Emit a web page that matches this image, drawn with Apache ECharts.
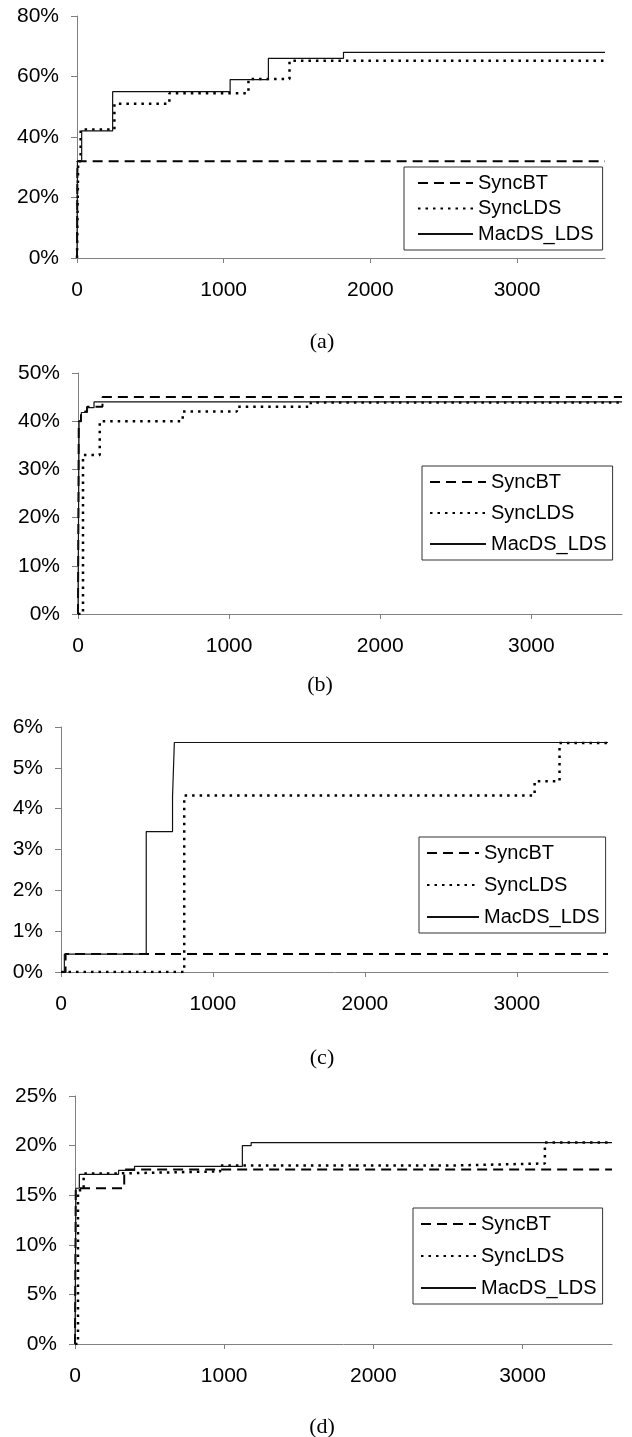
<!DOCTYPE html>
<html>
<head>
<meta charset="utf-8">
<script src="https://cdn.jsdelivr.net/npm/echarts@6/dist/echarts.min.js"></script>
<style>
  html, body { margin: 0; padding: 0; background: #fff; }
  #chart { width: 632px; height: 1437px; }
</style>
</head>
<body>
<div id="chart"></div>
<script>
// names, ticks, captions
const seriesNames = ['SyncBT', 'SyncLDS', 'MacDS_LDS'];
const xTicks = [0, 1000, 2000, 3000];
const xMax = 3600;
const yMax = [80, 50, 6, 25];
const yStep = [20, 10, 1, 5];
const captions = ['(a)', '(b)', '(c)', '(d)'];

// (a) values in %, step changes at x
const aSyncBT = [[0, 0], [3, 32], [3600, 32]];
const aSyncLDS = [[0, 0], [8, 32], [25, 42.5], [255, 51], [630, 54.5], [1169, 59.2], [1449, 65.2], [3600, 65.2]];
const aMacDS = [[0, 0], [3, 32], [32, 42], [243, 55], [1044, 59], [1305, 66], [1817, 68], [3600, 68]];
// (b)
const bSyncBT = [[0, 0], [5, 40], [20, 42], [60, 43], [162, 45], [3600, 45]];
const bSyncLDS = [[0, 0], [33, 33], [144, 40], [693, 42], [1051, 43], [1540, 43.9], [3600, 43.9]];
const bMacDS = [[0, 0], [7, 40], [22, 41.8], [62, 42.8], [106, 44], [3600, 44]];
// (c)
const cSyncBT = [[0, 0], [30, 0.44], [3600, 0.44]];
const cSyncLDS = [[0, 0], [811, 4.32], [3117, 4.67], [3281, 5.61], [3600, 5.61]];
const cMacDS = [[0, 0], [22, 0.44], [561, 3.44], [734, 4.29], [746, 5.62], [3600, 5.62]];
// (d)
const dSyncBT = [[0, 0], [5, 15.7], [330, 17.6], [3600, 17.6]];
const dSyncLDS = [[0, 0], [20, 15.5], [58, 17.2], [300, 17.4], [973, 18.0], [2560, 18.2], [3150, 20.3], [3600, 20.3]];
const dMacDS = [[0, 0], [6, 15.7], [29, 17.1], [292, 17.5], [399, 17.9], [1122, 20.0], [1181, 20.3], [3600, 20.3]];

const panels = [
  [aSyncBT, aSyncLDS, aMacDS],
  [bSyncBT, bSyncLDS, bMacDS],
  [cSyncBT, cSyncLDS, cMacDS],
  [dSyncBT, dSyncLDS, dMacDS]
];

// layout (pixels) for each panel
const layout = [
  { grid: { left: 77, top: 16, width: 528, height: 242 }, legend: { left: 404, top: 167, gap: 5.5, pad: [6, 9, 6, 13], w: 55 }, cap: [322, 342] },
  { grid: { left: 78, top: 373, width: 544, height: 241 }, legend: { left: 422, top: 466, gap: 11, pad: [6, 6, 6, 7], w: 56 }, cap: [320, 685] },
  { grid: { left: 61, top: 727, width: 547, height: 245 }, legend: { left: 419, top: 837, gap: 12, pad: [6, 6, 6, 7], w: 52 }, cap: [322, 1058] },
  { grid: { left: 75, top: 1096, width: 537, height: 248 }, legend: { left: 413, top: 1208, gap: 12, pad: [6, 6, 6, 7], w: 55 }, cap: [322, 1427] }
];

const lineStyles = {
  SyncBT: { color: '#000', width: 2, type: [10, 6] },
  SyncLDS: { color: '#000', width: 2.5, type: [2.5, 5] },
  MacDS_LDS: { color: '#111', width: 1.2, type: 'solid' }
};

const axisFont = { fontFamily: 'Liberation Sans, Arial, sans-serif', fontSize: 21, color: '#000' };
const axisLineGrey = { lineStyle: { color: '#808080', width: 1 } };

const chart = echarts.init(document.getElementById('chart'));

const option = {
  animation: false,
  backgroundColor: '#fff',
  grid: layout.map(l => l.grid),
  xAxis: layout.map((l, i) => ({
    gridIndex: i,
    type: 'value',
    min: 0,
    max: xMax,
    interval: 1000,
    axisLine: axisLineGrey,
    axisTick: { show: true, length: 5, customValues: xTicks, lineStyle: { color: '#808080' } },
    axisLabel: Object.assign({ margin: 22, customValues: xTicks, formatter: v => String(v) }, axisFont),
    splitLine: { show: false }
  })),
  yAxis: layout.map((l, i) => ({
    gridIndex: i,
    type: 'value',
    min: 0,
    max: yMax[i],
    interval: yStep[i],
    axisLine: Object.assign({ show: true }, axisLineGrey),
    axisTick: { show: true, length: 6, lineStyle: { color: '#808080' } },
    axisLabel: Object.assign({ margin: 18, formatter: '{value}%' }, axisFont),
    splitLine: { show: false }
  })),
  legend: layout.map(l => ({
    data: seriesNames,
    orient: 'vertical',
    left: l.legend.left,
    top: l.legend.top,
    itemGap: l.legend.gap,
    padding: l.legend.pad,
    itemWidth: l.legend.w,
    itemHeight: 14,
    itemStyle: { opacity: 0 },
    borderColor: '#333',
    borderWidth: 1,
    backgroundColor: '#fff',
    selectedMode: false,
    textStyle: { fontFamily: 'Liberation Sans, Arial, sans-serif', fontSize: 20, color: '#000' }
  })),
  graphic: layout.map((l, i) => ({
    type: 'text',
    x: l.cap[0],
    y: l.cap[1],
    style: {
      text: captions[i],
      font: '22px "Liberation Serif", "Times New Roman", serif',
      fill: '#000',
      align: 'center',
      verticalAlign: 'middle'
    }
  })),
  series: []
};

panels.forEach((panel, i) => {
  panel.forEach((data, j) => {
    const name = seriesNames[j];
    option.series.push({
      name: name,
      type: 'line',
      xAxisIndex: i,
      yAxisIndex: i,
      step: 'end',
      symbol: 'none',
      data: data,
      itemStyle: { color: '#000' },
      lineStyle: lineStyles[name],
      z: 2 + j
    });
  });
});

chart.setOption(option);
</script>
</body>
</html>
